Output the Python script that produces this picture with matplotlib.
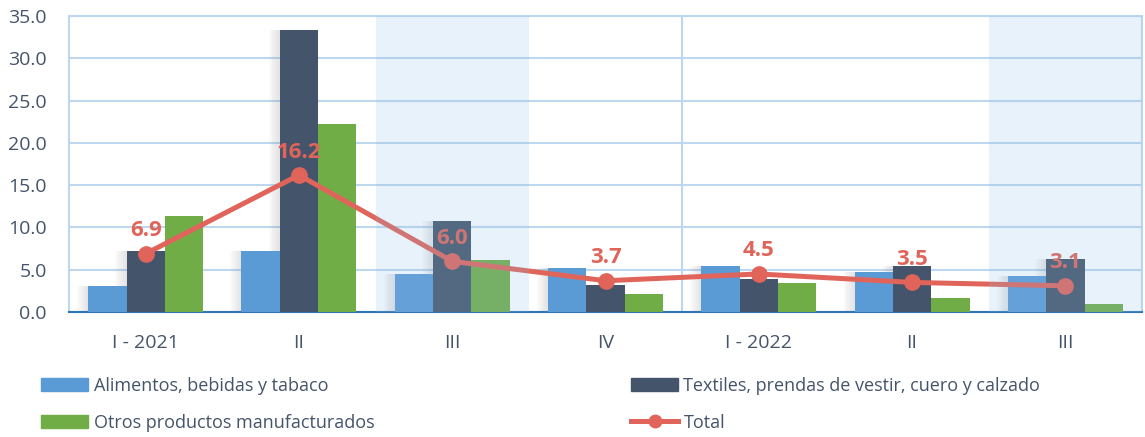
import numpy as np
import matplotlib.pyplot as plt
from matplotlib.lines import Line2D
from matplotlib.patches import Patch

plt.rcParams['font.family'] = ['Open Sans', 'DejaVu Sans']

quarters = ["I - 2021", "II", "III", "IV", "I - 2022", "II", "III"]
alimentos = [3.1, 7.2, 4.5, 5.2, 5.4, 4.7, 4.3]
textiles = [7.2, 33.4, 10.8, 3.2, 3.9, 5.4, 6.3]
otros = [11.4, 22.3, 6.1, 2.1, 3.4, 1.7, 0.9]
total = [6.9, 16.2, 6.0, 3.7, 4.5, 3.5, 3.1]
shaded = [2, 6]

c_blue = "#5B9BD5"
c_dark = "#44546A"
c_green = "#70AD47"
c_red = "#E0645A"
c_grid = "#BDD7EE"
c_text = "#44546A"

fig = plt.figure(figsize=(11.45, 4.37), dpi=100)
ax = fig.add_axes([0.0603, 0.286, 0.9371, 0.677])

x = np.arange(len(quarters))
w = 0.25
# soft shadow on the left of each group
for k in range(6):
    off = 0.012 * (k + 1)
    tops = [max(a, b, c) for a, b, c in zip(alimentos, textiles, otros)]
    ax.bar(x - w - off, alimentos, w, color="#808080", alpha=0.035, lw=0, zorder=2)
    ax.bar(x - off, textiles, w, color="#808080", alpha=0.035, lw=0, zorder=2)
ax.bar(x - w, alimentos, w, color=c_blue, zorder=3)
ax.bar(x, textiles, w, color=c_dark, zorder=3)
ax.bar(x + w, otros, w, color=c_green, zorder=3)

ax.plot(x, total, color=c_red, lw=3.6, marker="o", ms=11, zorder=4)
for xi, v in zip(x, total):
    ax.annotate(f"{v:.1f}", (xi, v), xytext=(0, 9), textcoords="offset points",
                ha="center", va="bottom", color=c_red, fontsize=16, fontweight="bold", zorder=5)

for i in shaded:
    ax.axvspan(i - 0.5, i + 0.5, color="#90BEE6", alpha=0.2, lw=0, zorder=6)
ax.axvline(3.5, color=c_grid, lw=1.5, zorder=1)

ax.set_xlim(-0.5, len(quarters) - 0.5)
ax.set_ylim(0, 35)
ax.set_yticks(np.arange(0, 35.1, 5))
ax.set_yticklabels([f"{t:.1f}" for t in np.arange(0, 35.1, 5)])
ax.set_xticks(x)
ax.set_xticklabels(quarters)
ax.yaxis.grid(True, color=c_grid, lw=1.5, zorder=1)
ax.set_axisbelow(True)
ax.tick_params(axis="both", length=0, labelsize=14, colors=c_text)
ax.tick_params(axis="x", pad=16)
ax.tick_params(axis="y", pad=16)
for s in ["left", "top", "right"]:
    ax.spines[s].set_color(c_grid)
    ax.spines[s].set_linewidth(1.5)
ax.spines["bottom"].set_color("#2E75B6")
ax.spines["bottom"].set_linewidth(1.5)

h1 = [Patch(color=c_blue), Patch(color=c_green)]
l1 = ["Alimentos, bebidas y tabaco", "Otros productos manufacturados"]
h2 = [Patch(color=c_dark), Line2D([], [], color=c_red, lw=3.6, marker="o", ms=9)]
l2 = ["Textiles, prendas de vestir, cuero y calzado", "Total"]
kw = dict(frameon=False, fontsize=13, handlelength=2.6, handleheight=0.75,
          handletextpad=0.3, labelspacing=1.05, labelcolor=c_text)
fig.legend(h1, l1, loc="upper left", bbox_to_anchor=(0.022, 0.175), **kw)
fig.legend(h2, l2, loc="upper left", bbox_to_anchor=(0.537, 0.175), **kw)

fig.savefig("out.png", dpi=100)
